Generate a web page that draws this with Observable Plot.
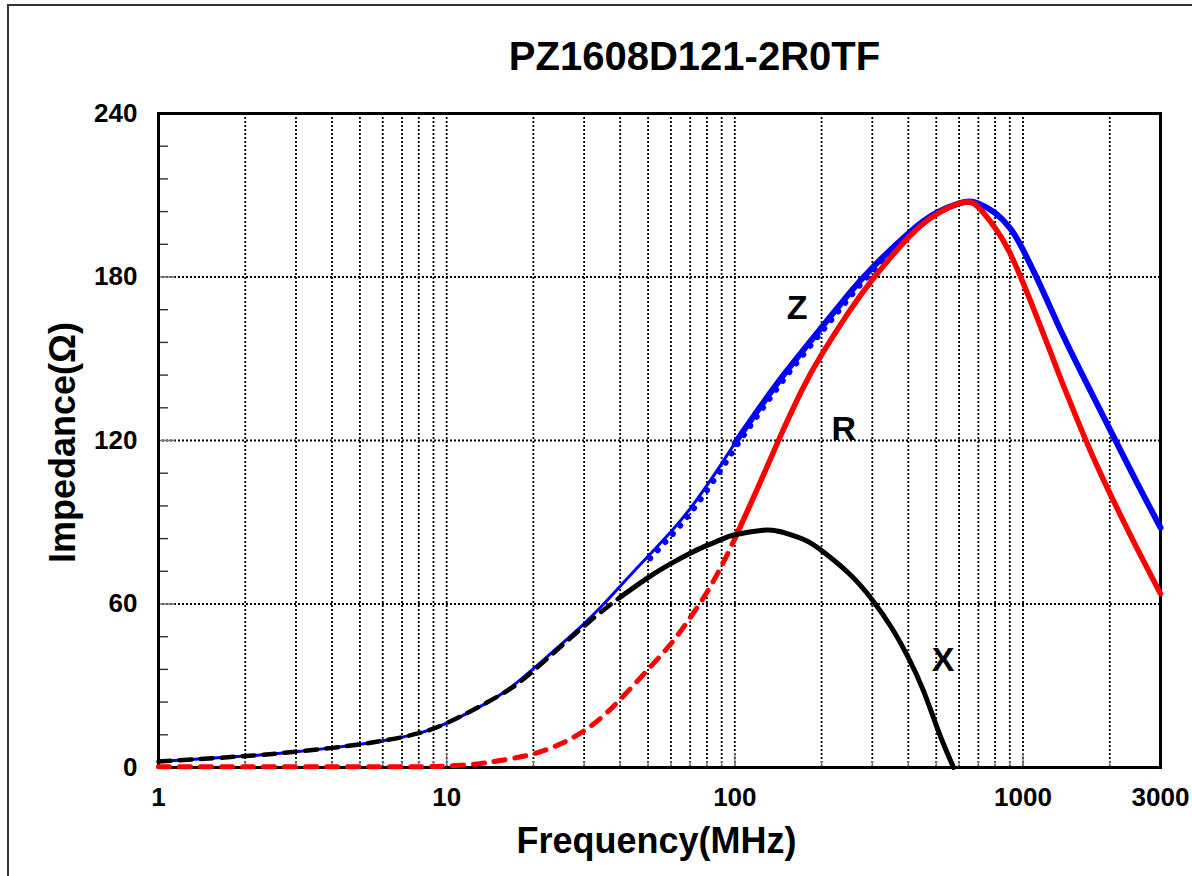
<!DOCTYPE html>
<html>
<head>
<meta charset="utf-8">
<script src="https://cdn.jsdelivr.net/npm/d3@7"></script>
<script src="https://cdn.jsdelivr.net/npm/@observablehq/plot@0.6"></script>
<style>
  html, body { margin: 0; padding: 0; background: #fff; overflow: hidden; }
  #wrap { position: relative; width: 1192px; height: 876px; }
  #outer { position: absolute; left: 7px; top: 4px; width: 1300px; height: 1000px;
           border-left: 2px solid #333; border-top: 2px solid #333; pointer-events: none; }
  #chart { position: absolute; left: 0; top: 0; }
</style>
</head>
<body>
<div id="wrap"><div id="chart"></div><div id="outer"></div></div>
<script>
// ---- data ----
const titleText = "PZ1608D121-2R0TF";
const xLabel = "Frequency(MHz)";
const yLabel = "Impedance(\u03A9)";

const zFreq = [1, 2, 3, 4, 5, 6, 7, 8, 10, 15, 20, 30, 40, 50, 60, 70, 80, 90, 100, 120, 150, 200, 250, 300, 400, 500, 600, 650, 700, 800, 900, 1000, 1200, 1441, 2094, 2500, 3000];
const zVal  = [2.2, 4.2, 5.8, 7.2, 8.5, 9.8, 11.1, 12.6, 16.3, 26, 36.3, 52.8, 66.5, 77.5, 86.5, 95, 103.5, 111.5, 119, 131, 145, 161.5, 174.1, 183.4, 196, 203.5, 207, 207.7, 207, 203.5, 198, 190, 172.5, 154.2, 120, 104, 88];

const rFreq = [1, 2, 5, 8, 10, 13, 15, 20, 25, 30, 35, 40, 50, 60, 70, 80, 90, 100, 120, 141.7, 170, 200, 250, 300, 400, 500, 600, 650, 700, 800, 892, 985, 1100, 1245, 1400, 1635, 1900, 2317, 2650, 3000];
const rVal  = [0.3, 0.3, 0.3, 0.3, 0.5, 1.4, 2.4, 5, 8.8, 13.5, 19, 25, 36, 45.4, 55, 64.3, 74, 84, 102.5, 120, 138, 151.5, 167.5, 179, 194.5, 203, 207, 207.5, 205.6, 198, 189.7, 179.6, 167.1, 152.5, 138.6, 121.2, 105.7, 86.9, 74.8, 63.8];

const xFreq = [1, 2, 3, 4, 5, 6, 7, 8, 10, 15, 20, 30, 40, 50, 60, 70, 80, 90, 100, 125, 140, 150, 175, 200, 250, 300, 350, 400, 450, 500, 540, 574];
const xVal  = [2.2, 4.2, 5.8, 7.2, 8.5, 9.8, 11.1, 12.6, 16.3, 26, 35.5, 51.9, 62.5, 69.7, 74.8, 78.6, 81.5, 83.7, 85.4, 87.1, 86.8, 86, 83.5, 79.6, 71, 61.5, 51.3, 40.3, 28.5, 15.5, 6.5, 0];

const curveNames = ["Z", "R", "X"];
const curveLabelFreq = [164.5, 238.7, 528];
const curveLabelVal  = [168.7, 124.3, 39.5];

const xTicks = [1, 10, 100, 1000, 3000];
const yTicks = [0, 60, 120, 180, 240];
const xGrid = [2,3,4,5,6,7,8,9,10,20,30,40,50,60,70,80,90,100,200,300,400,500,600,700,800,900,1000,2000];
const yGrid = [60, 120, 180];
const yMinor = [12,24,36,48,72,84,96,108,132,144,156,168,192,204,216,228];
const yMajorTick = [60, 120, 180];
const xDecade = [10, 100, 1000];

// ---- tables built from arrays ----
const zData = zFreq.map((f, i) => ({f, v: zVal[i]}));
const rData = rFreq.map((f, i) => ({f, v: rVal[i]}));
const xData = xFreq.map((f, i) => ({f, v: xVal[i]}));
const labels = curveNames.map((n, i) => ({n, f: curveLabelFreq[i], v: curveLabelVal[i]}));

const font = '"Liberation Sans", Arial, Helvetica, sans-serif';
const curve = "natural";

const chart = Plot.plot({
  width: 1192,
  height: 876,
  marginLeft: 158,
  marginRight: 32,
  marginTop: 113,
  marginBottom: 109,
  style: {fontFamily: font, background: "transparent", color: "black"},
  x: {type: "log", domain: [1, 3000], axis: null},
  y: {domain: [0, 240], axis: null},
  marks: [
    // dotted grid
    Plot.ruleX(xGrid, {stroke: "black", strokeWidth: 1.8, strokeDasharray: "2,2"}),
    Plot.ruleY(yGrid, {stroke: "black", strokeWidth: 1.8, strokeDasharray: "2,2"}),
    // inner minor ticks
    Plot.ruleY(yMinor, {stroke: "#333", strokeWidth: 1.4, insetRight: 992}),
    Plot.ruleY(yMajorTick, {stroke: "#777", strokeWidth: 1.6, insetRight: 985}),
    Plot.ruleX(xGrid, {stroke: "#777", strokeWidth: 1.3, insetTop: 648}),
    Plot.ruleX(xDecade, {stroke: "#777", strokeWidth: 1.3, insetTop: 640}),
    Plot.frame({stroke: "black", strokeWidth: 3}),
    // axes
    Plot.axisX(xTicks, {tickSize: 0, tickPadding: 20, fontSize: 26, fontWeight: "bold", tickFormat: d => String(d), label: null}),
    Plot.axisY(yTicks, {tickSize: 0, tickPadding: 21, fontSize: 26, fontWeight: "bold", label: null}),
    // Z (blue)
    Plot.line(zData, {x: "f", y: "v", stroke: "#0000ff", strokeWidth: 3, curve}),
    Plot.line(zData, {filter: d => d.f >= 100, x: "f", y: "v", stroke: "#0000ff", strokeWidth: 6, curve}),
    Plot.line(zData, {filter: d => d.f >= 50 && d.f <= 400, x: "f", y: "v", stroke: "#0000ff", strokeWidth: 6,
      strokeDasharray: "0.1,11", strokeLinecap: "round", dx: 2, dy: 2, curve}),
    // R (red)
    Plot.line(rData, {filter: d => d.f <= 100, x: "f", y: "v", stroke: "#ff0000", strokeWidth: 5, strokeDasharray: "11,10", curve: "catmull-rom"}),
    Plot.line(rData, {filter: d => d.f >= 100, x: "f", y: "v", stroke: "#ff0000", strokeWidth: 5.5, curve}),
    // X (black)
    Plot.line(xData, {filter: d => d.f <= 40, x: "f", y: "v", stroke: "black", strokeWidth: 4.5, strokeDasharray: "12,9", curve}),
    Plot.line(xData, {filter: d => d.f >= 40, x: "f", y: "v", stroke: "black", strokeWidth: 5, curve}),
    // curve labels
    Plot.text(labels, {x: "f", y: "v", text: "n", fontSize: 34, fontWeight: "bold", fill: "black"}),
    // title and axis labels
    Plot.text([titleText], {frameAnchor: "top", lineAnchor: "middle", textAnchor: "middle", dx: 35, dy: -56, fontSize: 40, fontWeight: "bold", fill: "black"}),
    Plot.text([xLabel], {frameAnchor: "bottom", lineAnchor: "middle", textAnchor: "middle", dx: -3, dy: 74, fontSize: 36, fontWeight: "bold", fill: "black"}),
    Plot.text([yLabel], {frameAnchor: "left", lineAnchor: "middle", textAnchor: "middle", dx: -95, dy: 2, rotate: -90, fontSize: 36, fontWeight: "bold", fill: "black"})
  ]
});
document.getElementById("chart").appendChild(chart);
</script>
</body>
</html>
